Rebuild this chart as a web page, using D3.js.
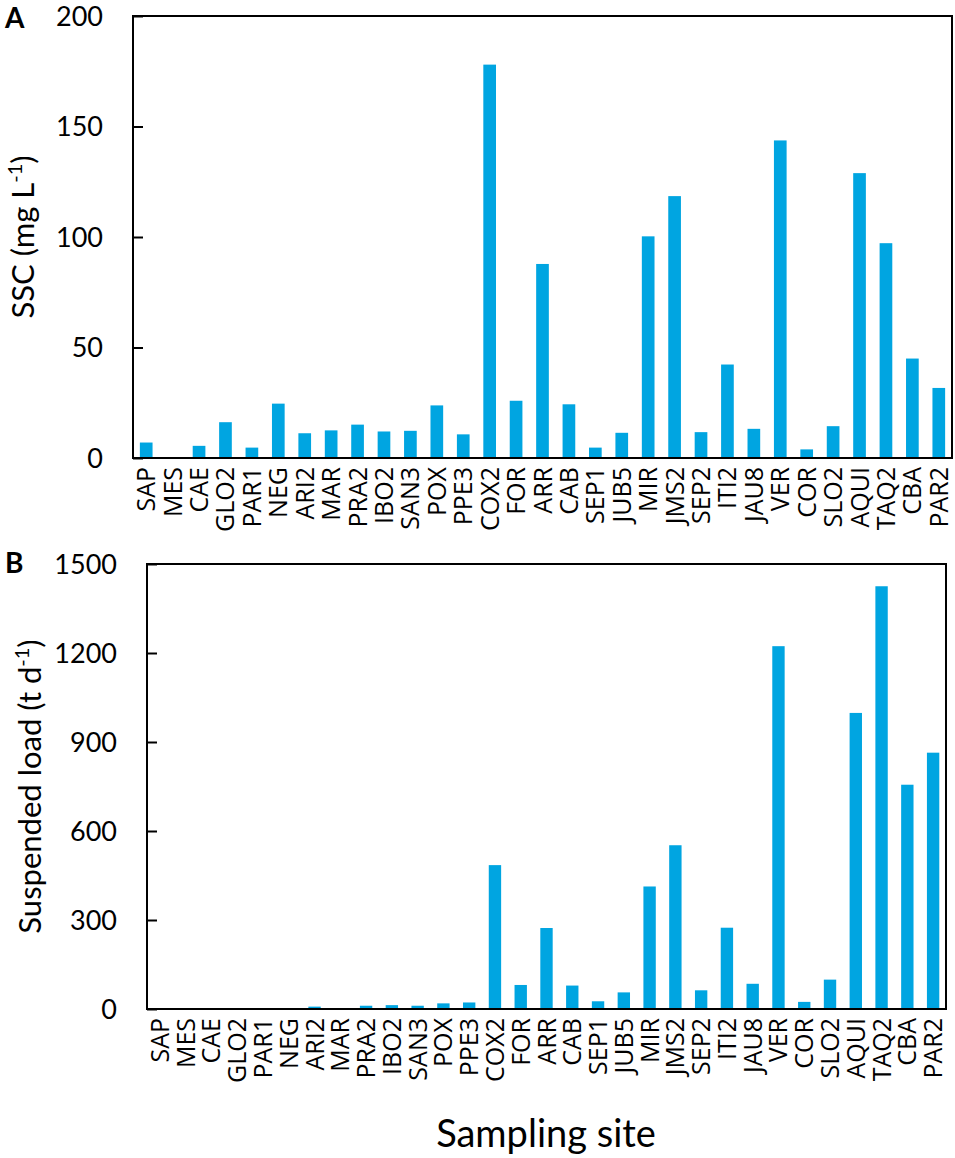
<!DOCTYPE html>
<html>
<head>
<meta charset="utf-8">
<script src="https://cdn.jsdelivr.net/npm/d3@7"></script>
<style>
  body { margin: 0; background: #fff; }
  text { font-family: Lato, "Open Sans", sans-serif; fill: #000; }
  text.site { font-family: "Open Sans", Lato, sans-serif; }
</style>
</head>
<body>
<script>
// sampling sites, same order on both panels
var sites = ["SAP", "MES", "CAE", "GLO2", "PAR1", "NEG", "ARI2", "MAR", "PRA2", "IBO2",
  "SAN3", "POX", "PPE3", "COX2", "FOR", "ARR", "CAB", "SEP1", "JUB5", "MIR",
  "JMS2", "SEP2", "ITI2", "JAU8", "VER", "COR", "SLO2", "AQUI", "TAQ2", "CBA", "PAR2"];

// panel A, SSC (mg L-1)
var ssc = [7, 0, 5.5, 16.2, 4.7, 24.6, 11.2, 12.5, 15.1, 12.0,
  12.3, 23.8, 10.7, 178, 25.9, 87.8, 24.3, 4.7, 11.4, 100.3,
  118.5, 11.7, 42.3, 13.2, 143.7, 3.9, 14.4, 128.9, 97.2, 45.0, 31.7];

// panel B, suspended load (t d-1)
var load = [0.5, 0.2, 0.5, 1, 0.5, 1, 8, 1, 11, 13,
  11, 19, 22, 485, 81, 273, 79, 26, 56, 413,
  552, 63, 274, 85, 1223, 24, 99, 998, 1425, 756, 864];

var ticksA = [0, 50, 100, 150, 200];
var ticksB = [0, 300, 600, 900, 1200, 1500];

var W = 955, H = 1158;
var barColor = "#00a5e1";

var svg = d3.select("body").append("svg")
  .attr("width", W)
  .attr("height", H);

/*
  draws one bar panel
  p = {values, ticks, max, x0, x1, y0, y1, title, titleX, letter, letterY}
*/
var drawPanel = function(p) {
  var x = d3.scaleBand()
    .domain(sites)
    .range([p.x0, p.x1])
    .paddingInner(0.52)
    .paddingOuter(0.26);
  var y = d3.scaleLinear()
    .domain([0, p.max])
    .range([p.y0, p.y1]);

  var g = svg.append("g");

  g.selectAll("rect.bar")
    .data(p.values)
    .enter()
    .append("rect")
    .attr("class", "bar")
    .attr("x", function(d, i) { return x(sites[i]); })
    .attr("width", x.bandwidth())
    .attr("y", function(d) { return y(d); })
    .attr("height", function(d) { return p.y0 - y(d); })
    .attr("fill", barColor);

  // inward ticks on the left axis
  var yAxis = d3.axisRight(y)
    .tickValues(p.ticks)
    .tickSize(10)
    .tickFormat("");
  g.append("g")
    .attr("transform", "translate(" + p.x0 + ",0)")
    .call(yAxis)
    .call(function(a) {
      a.select(".domain").remove();
      a.selectAll("line").attr("stroke", "#000").attr("stroke-width", 2);
    });

  g.selectAll("text.ytick")
    .data(p.ticks)
    .enter()
    .append("text")
    .attr("class", "ytick")
    .attr("x", p.x0 - 30)
    .attr("y", function(d) { return y(d); })
    .attr("dy", "0.36em")
    .attr("text-anchor", "end")
    .attr("font-size", 27)
    .text(function(d) { return d; });

  // frame
  g.append("rect")
    .attr("x", p.x0)
    .attr("y", p.y1)
    .attr("width", p.x1 - p.x0)
    .attr("height", p.y0 - p.y1)
    .attr("fill", "none")
    .attr("stroke", "#000")
    .attr("stroke-width", 2);

  // rotated site names
  g.selectAll("text.site")
    .data(sites)
    .enter()
    .append("text")
    .attr("class", "site")
    .attr("transform", function(d) {
      return "translate(" + (x(d) + x.bandwidth() / 2) + "," + (p.y0 + 9) + ") rotate(-90)";
    })
    .attr("dy", "0.36em")
    .attr("text-anchor", "end")
    .attr("font-size", 25)
    .text(function(d) { return d; });

  // axis title with superscript
  var t = g.append("text")
    .attr("transform", "translate(" + p.titleX + "," + ((p.y0 + p.y1) / 2) + ") rotate(-90)")
    .attr("text-anchor", "middle")
    .attr("font-size", 31);
  t.append("tspan").text(p.title[0]);
  t.append("tspan").attr("baseline-shift", "super").attr("font-size", 20).text(p.title[1]);
  t.append("tspan").text(p.title[2]);

  g.append("text")
    .attr("x", 5)
    .attr("y", p.letterY)
    .attr("font-size", 28)
    .attr("font-weight", "bold")
    .text(p.letter);
};

drawPanel({
  values: ssc, ticks: ticksA, max: 200,
  x0: 133, x1: 952, y0: 458, y1: 16,
  title: ["SSC (mg L", "-1", ")"], titleX: 34,
  letter: "A", letterY: 28
});

drawPanel({
  values: load, ticks: ticksB, max: 1500,
  x0: 147, x1: 946, y0: 1009, y1: 564,
  title: ["Suspended load (t d", "-1", ")"], titleX: 41,
  letter: "B", letterY: 573
});

svg.append("text")
  .attr("x", 546)
  .attr("y", 1147)
  .attr("text-anchor", "middle")
  .attr("font-size", 38)
  .text("Sampling site");
</script>
</body>
</html>
